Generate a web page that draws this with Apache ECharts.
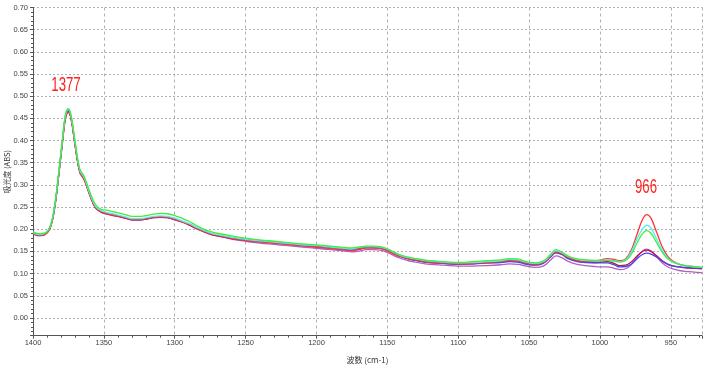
<!DOCTYPE html>
<html>
<head>
<meta charset="utf-8">
<script src="https://cdn.jsdelivr.net/npm/echarts@6/dist/echarts.min.js"></script>
<style>html,body{margin:0;padding:0;background:#fff;}#c{width:714px;height:366px;}</style>
</head>
<body>
<div id="c"></div>
<script>
const wavenumbers = [1400,1396,1392,1388,1385,1382,1379,1377,1375,1373,1370,1367,1364,1360,1356,1352,1348,1344,1340,1335,1330,1325,1320,1315,1310,1305,1300,1295,1290,1285,1280,1275,1270,1260,1250,1240,1230,1220,1210,1200,1190,1180,1175,1170,1165,1160,1155,1150,1145,1140,1135,1130,1120,1110,1100,1090,1080,1070,1064,1058,1052,1046,1040,1035,1031,1027,1022,1016,1010,1004,999,995,990,986,982,978,974,970,967,964,960,956,952,948,944,940,935,928];

const redVals = [0.191,0.186,0.188,0.203,0.243,0.318,0.403,0.452,0.464,0.447,
0.383,0.329,0.313,0.278,0.249,0.239,0.235,0.232,0.230,0.226,
0.222,0.222,0.224,0.227,0.228,0.227,0.222,0.217,0.211,0.203,
0.196,0.190,0.186,0.180,0.175,0.172,0.169,0.166,0.163,0.160,
0.157,0.154,0.152,0.155,0.158,0.158,0.157,0.152,0.144,0.138,
0.134,0.131,0.126,0.124,0.122,0.123,0.125,0.127,0.130,0.129,
0.124,0.121,0.125,0.139,0.149,0.145,0.136,0.130,0.128,0.128,
0.131,0.134,0.132,0.129,0.133,0.152,0.187,0.222,0.233,0.225,
0.193,0.160,0.138,0.127,0.121,0.118,0.116,0.113];

const greenVals = [0.194,0.190,0.191,0.206,0.248,0.324,0.410,0.460,0.472,0.455,
0.391,0.336,0.320,0.285,0.256,0.245,0.243,0.240,0.237,0.233,
0.229,0.229,0.231,0.234,0.236,0.235,0.231,0.225,0.218,0.209,
0.201,0.195,0.191,0.185,0.180,0.176,0.173,0.170,0.167,0.165,
0.162,0.159,0.158,0.160,0.162,0.162,0.161,0.156,0.148,0.141,
0.137,0.134,0.129,0.127,0.125,0.127,0.129,0.131,0.134,0.133,
0.127,0.124,0.128,0.143,0.154,0.149,0.139,0.133,0.131,0.130,
0.130,0.130,0.128,0.126,0.129,0.143,0.168,0.190,0.197,0.191,
0.170,0.148,0.133,0.125,0.121,0.118,0.116,0.114];

const cyanVals = [0.193,0.188,0.190,0.205,0.246,0.322,0.408,0.458,0.470,0.452,
0.388,0.333,0.317,0.281,0.252,0.242,0.238,0.235,0.232,0.228,
0.224,0.224,0.226,0.229,0.230,0.229,0.225,0.219,0.213,0.205,
0.198,0.192,0.188,0.182,0.177,0.174,0.171,0.168,0.165,0.163,
0.160,0.157,0.156,0.159,0.161,0.161,0.160,0.155,0.147,0.140,
0.136,0.133,0.128,0.126,0.124,0.125,0.127,0.129,0.132,0.131,
0.126,0.123,0.127,0.141,0.152,0.147,0.138,0.132,0.130,0.129,
0.130,0.131,0.129,0.127,0.131,0.148,0.177,0.201,0.209,0.203,
0.178,0.152,0.135,0.126,0.121,0.118,0.116,0.114];

const blueVals = [0.192,0.187,0.189,0.204,0.245,0.320,0.406,0.456,0.468,0.450,
0.386,0.331,0.315,0.280,0.250,0.240,0.236,0.233,0.230,0.226,
0.222,0.222,0.224,0.227,0.228,0.227,0.223,0.218,0.212,0.204,
0.197,0.191,0.187,0.181,0.177,0.174,0.171,0.168,0.165,0.162,
0.159,0.156,0.155,0.158,0.160,0.160,0.159,0.153,0.145,0.138,
0.133,0.130,0.125,0.123,0.121,0.122,0.124,0.125,0.127,0.126,
0.121,0.119,0.123,0.137,0.147,0.143,0.133,0.127,0.125,0.124,
0.124,0.124,0.120,0.115,0.116,0.121,0.133,0.143,0.146,0.144,
0.137,0.128,0.121,0.117,0.115,0.114,0.113,0.112];

const purpleVals = [0.190,0.185,0.187,0.202,0.242,0.317,0.402,0.451,0.463,0.446,
0.382,0.328,0.312,0.277,0.248,0.238,0.234,0.231,0.229,0.225,
0.221,0.221,0.223,0.226,0.227,0.226,0.221,0.216,0.210,0.202,
0.195,0.189,0.185,0.178,0.173,0.169,0.166,0.163,0.160,0.157,
0.154,0.151,0.149,0.151,0.154,0.154,0.153,0.148,0.140,0.134,
0.129,0.126,0.121,0.119,0.117,0.117,0.118,0.120,0.122,0.121,
0.117,0.114,0.117,0.130,0.140,0.136,0.127,0.121,0.118,0.116,
0.115,0.115,0.112,0.109,0.111,0.120,0.136,0.151,0.155,0.151,
0.138,0.124,0.115,0.110,0.107,0.105,0.104,0.102];

const maroonVals = [0.191,0.186,0.188,0.203,0.244,0.319,0.404,0.454,0.466,0.448,
0.384,0.330,0.314,0.279,0.249,0.239,0.235,0.232,0.229,0.225,
0.221,0.221,0.223,0.226,0.227,0.226,0.222,0.217,0.210,0.202,
0.195,0.189,0.185,0.179,0.175,0.172,0.169,0.166,0.163,0.160,
0.157,0.154,0.152,0.155,0.158,0.158,0.157,0.152,0.144,0.138,
0.133,0.130,0.125,0.123,0.121,0.122,0.124,0.126,0.129,0.128,
0.123,0.120,0.124,0.138,0.148,0.144,0.134,0.128,0.126,0.125,
0.126,0.127,0.123,0.118,0.119,0.126,0.139,0.150,0.153,0.150,
0.140,0.129,0.121,0.117,0.115,0.113,0.112,0.111];

const seriesDefs = [
  {name:'S5', color:'#b060c0', values: purpleVals},
  {name:'S6', color:'#c01050', values: maroonVals},
  {name:'S4', color:'#4545ee', values: blueVals},
  {name:'S1', color:'#ff3535', values: redVals},
  {name:'S3', color:'#55eeee', values: cyanVals},
  {name:'S2', color:'#40ee40', values: greenVals}
];

const xTickMin = 928, xTickMax = 1400;
const yMin = -0.04, yMax = 0.70;
const peakLabels = [{text:'1377', x:66, y:85}, {text:'966', x:646, y:187}];

const labelFont = 'Liberation Sans Narrow, Arial Narrow, sans-serif';

const chart = echarts.init(document.getElementById('c'), null, {renderer:'canvas'});
chart.setOption({
  animation:false,
  backgroundColor:'#ffffff',
  grid:{left:33, right:12, top:7.5, bottom:30.3, containLabel:false, outerBoundsMode:'none'},
  xAxis:{
    type:'value', inverse:true, min:xTickMin, max:xTickMax,
    minInterval:50, maxInterval:50,
    name:'波数 (cm-1)', nameLocation:'middle', nameGap:20, nameMoveOverlap:false,
    nameTextStyle:{fontSize:8, color:'#333', fontFamily:'Noto Sans CJK SC'},
    axisLine:{show:true, onZero:false, lineStyle:{color:'#555', width:1}},
    axisTick:{show:true, length:3, lineStyle:{color:'#555'}},
    minorTick:{show:true, splitNumber:5, length:2, lineStyle:{color:'#555'}},
    axisLabel:{fontSize:7.5, color:'#444', margin:3, fontFamily:labelFont, showMinLabel:false,
      formatter:function(v){return String(v);}},
    splitLine:{show:true, lineStyle:{color:'#b0b0b0', type:[3,3], width:1}}
  },
  yAxis:{
    type:'value', min:yMin, max:yMax,
    minInterval:0.05, maxInterval:0.05,
    name:'吸光度 (ABS)', nameLocation:'middle', nameGap:22, nameRotate:90, nameMoveOverlap:false,
    nameTextStyle:{fontSize:7.5, color:'#333', fontFamily:'Noto Sans CJK SC'},
    axisLine:{show:true, onZero:false, lineStyle:{color:'#555', width:1}},
    axisTick:{show:true, length:3, lineStyle:{color:'#555'}},
    minorTick:{show:true, splitNumber:5, length:2, lineStyle:{color:'#555'}},
    axisLabel:{fontSize:7.5, color:'#444', margin:5, fontFamily:labelFont, showMinLabel:false,
      formatter:function(v){return v.toFixed(2);}},
    splitLine:{show:true, lineStyle:{color:'#b0b0b0', type:[2,2], width:1}}
  },
  graphic: peakLabels.map(p => ({
    type:'text', x:p.x, y:p.y, scaleX:0.66, z:100,
    style:{text:p.text, fill:'#ff2020', font:'20px "Liberation Sans", Arial, sans-serif',
      textAlign:'center', textVerticalAlign:'middle'}
  })),
  series: seriesDefs.map(s => ({
    type:'line', name:s.name, smooth:0.4, symbol:'none',
    lineStyle:{color:s.color, width:1.3},
    itemStyle:{color:s.color},
    data: wavenumbers.map((w,i) => [w, s.values[i]])
  }))
});
</script>
</body>
</html>
